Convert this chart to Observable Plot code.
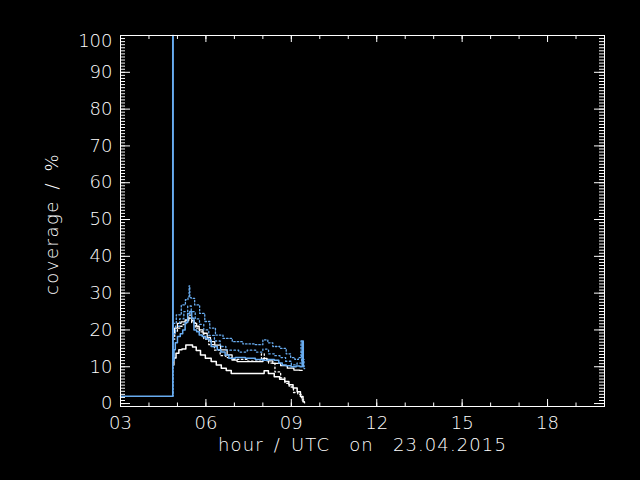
<!DOCTYPE html>
<html><head><meta charset="utf-8">
<script src="https://cdn.jsdelivr.net/npm/d3@7"></script>
<script src="https://cdn.jsdelivr.net/npm/@observablehq/plot@0.6"></script>
<style>html,body{margin:0;padding:0;background:#000;overflow:hidden}</style>
</head><body><div id="chart"></div>
<script>
// ---- tick labels ----
const xTicks = [3, 6, 9, 12, 15, 18];
const yTicks = [0, 10, 20, 30, 40, 50, 60, 70, 80, 90, 100];
const xTitle = "hour\u2002/\u2002UTC\u2003on\u200323.04.2015";
const yTitle = "coverage\u2002/\u2002%";

// ---- series: hour (UTC) and coverage (%) ----
const blueHours = [3, 4.83, 4.84, 4.86, 4.9, 4.95, 5.05, 5.15, 5.22, 5.32, 5.40, 5.47, 5.53, 5.63, 5.72, 5.81, 5.93, 6.05, 6.15, 6.22, 6.35, 6.45, 6.6, 6.75, 6.86, 7.2, 7.57, 7.9, 8.09, 8.3, 8.5, 8.62, 8.74, 8.9, 9.09, 9.25, 9.36, 9.40, 9.44];
const blueCov   = [2, 2, 100, 11.8, 14.6, 16.5, 18.2, 19.0, 20.0, 22.0, 24.5, 25.0, 23.2, 20.0, 19.5, 18.6, 18.2, 17.7, 17.3, 15.5, 15.5, 14.6, 14.0, 13.2, 12.3, 12.5, 12.3, 12.0, 11.8, 12.0, 11.8, 11.0, 10.5, 10.3, 10.0, 10.2, 10.0, 17.0, 10.0];

const blueMaxHours = [4.83, 4.87, 5.05, 5.22, 5.34, 5.40, 5.42, 5.45, 5.52, 5.69, 5.87, 6.05, 6.22, 6.45, 6.75, 7.1, 7.5, 7.9, 8.1, 8.25, 8.45, 8.74, 8.9, 9.05, 9.2, 9.3, 9.38, 9.42, 9.47];
const blueMaxCov   = [2, 21.8, 24.1, 26.8, 28.2, 29, 32, 28.8, 28.6, 26.8, 24.5, 22.3, 20.5, 18.6, 17.7, 16.8, 16.2, 16.0, 17.3, 16.5, 15.5, 15.0, 13.5, 12.5, 12.0, 12.5, 17.0, 12.0, 9.5];

const blueMidHours = [4.87, 5.0, 5.15, 5.3, 5.42, 5.55, 5.7, 5.85, 6.0, 6.2, 6.4, 6.6, 6.8, 7.0, 7.3, 7.6, 7.9, 8.1, 8.3, 8.5, 8.7, 8.9, 9.1, 9.3, 9.42];
const blueMidCov   = [19, 21, 23, 25, 26.5, 25, 23, 21.5, 20, 18.5, 17, 15.5, 14.5, 14.5, 14.0, 14.5, 14.0, 14.8, 13.5, 13.0, 12.5, 11.5, 10.5, 11.0, 14.0];

const whiteHiHours = [4.85, 4.95, 5.05, 5.2, 5.34, 5.46, 5.55, 5.63, 5.72, 5.81, 5.99, 6.1, 6.22, 6.4, 6.63, 6.86, 6.98, 7.21, 7.6, 7.92, 8.09, 8.2, 8.5, 8.75, 8.97, 9.21, 9.38];
const whiteHiCov   = [19.0, 20.5, 21.8, 22.2, 22.7, 23.2, 22.5, 21.8, 21.0, 20.0, 19.1, 18.0, 16.8, 15.9, 14.6, 13.2, 11.8, 11.4, 11.4, 11.4, 12.3, 11.6, 10.9, 10.3, 9.6, 9.1, 9.0];

const whiteLoHours = [4.84, 4.91, 4.99, 5.11, 5.21, 5.38, 5.49, 5.57, 5.75, 5.87, 6.09, 6.28, 6.45, 6.63, 6.8, 6.98, 7.5, 8.0, 8.09, 8.3, 8.5, 8.68, 8.86, 8.97, 9.15, 9.26, 9.38, 9.44];
const whiteLoCov   = [10.5, 12.4, 13.7, 14.6, 14.8, 15.9, 15.9, 15.4, 14.4, 13.2, 12.3, 11.4, 10.5, 9.6, 9.0, 8.2, 8.2, 8.2, 8.9, 8.2, 7.3, 6.6, 6.0, 5.1, 4.2, 3.2, 1.9, 0.5];

const whiteDotHours = [4.86, 4.95, 5.05, 5.15, 5.25, 5.35, 5.45, 5.55, 5.7, 5.85, 6.0, 6.2, 6.4, 6.6, 6.8, 7.0, 7.3, 7.6, 7.9, 8.0, 8.1, 8.3, 8.55, 8.7, 8.85, 9.0, 9.15, 9.3, 9.42, 9.5];
const whiteDotCov   = [17.5, 19.5, 20.5, 21.0, 21.5, 22.5, 24, 22, 20.5, 19.5, 17.5, 16.0, 14.5, 13.0, 12.5, 12.0, 12.0, 11.5, 11.5, 13.5, 12.0, 11.0, 8.6, 7.0, 5.5, 4.5, 3.0, 2.5, 1.0, 0.2];

const toRows = (hs, vs) => hs.map((h, i) => ({h, v: vs[i]}));

const W = 640, H = 480;
const mL = 120, mR = 36, mT = 35, mB = 74;
const fw = W - mL - mR, fh = H - mT - mB;
const BLUE = "#68acf0";
const FONT = "DejaVu Sans";

const xMinor = d3.range(3, 21, 1);
const yMinor = d3.range(0, 100.001, 10 / 12);

const txt = {fill: "white", fontSize: 18, fontFamily: FONT, fontWeight: 200};

const plot = Plot.plot({
  width: W, height: H,
  marginLeft: mL, marginRight: mR, marginTop: mT, marginBottom: mB,
  style: {background: "black", color: "white", fontFamily: FONT},
  x: {domain: [3, 20], axis: null},
  y: {domain: [-0.8, 100], axis: null},
  marks: [
    // ticks: bottom / top
    Plot.tickX(xMinor, {x: d => d, stroke: "white", insetTop: fh - 3.5}),
    Plot.tickX(xTicks, {x: d => d, stroke: "white", insetTop: fh - 7}),
    Plot.tickX(xMinor, {x: d => d, stroke: "white", insetBottom: fh - 4}),
    Plot.tickX(xTicks, {x: d => d, stroke: "white", insetBottom: fh - 7}),
    // ticks: left / right
    Plot.tickY(yMinor, {y: d => d, stroke: "white", insetRight: fw - 5}),
    Plot.tickY(yTicks, {y: d => d, stroke: "white", insetRight: fw - 10}),
    Plot.tickY(yMinor, {y: d => d, stroke: "white", insetLeft: fw - 5}),
    Plot.tickY(yTicks, {y: d => d, stroke: "white", insetLeft: fw - 10}),
    // data
    Plot.line(toRows(whiteDotHours, whiteDotCov), {x: "h", y: "v", curve: "step", stroke: "white", strokeWidth: 1.3, strokeDasharray: "1.5,2.5"}),
    Plot.line(toRows(whiteHiHours, whiteHiCov), {x: "h", y: "v", curve: "step", stroke: "white", strokeWidth: 1.3}),
    Plot.line(toRows(whiteLoHours, whiteLoCov), {x: "h", y: "v", curve: "step", stroke: "white", strokeWidth: 1.5}),
    Plot.line(toRows(blueMidHours, blueMidCov), {x: "h", y: "v", curve: "step", stroke: BLUE, strokeWidth: 1.3, strokeDasharray: "1.5,2.5"}),
    Plot.line(toRows(blueMaxHours, blueMaxCov), {x: "h", y: "v", curve: "step", stroke: BLUE, strokeWidth: 1.3, strokeDasharray: "1.5,2"}),
    Plot.line(toRows(blueHours, blueCov), {x: "h", y: "v", curve: "step", stroke: BLUE, strokeWidth: 1.5}),
    Plot.frame({stroke: "white"}),
    // labels
    Plot.text(xTicks, {x: d => d, frameAnchor: "bottom", dy: 22, text: d => String(d).padStart(2, "0"), ...txt}),
    Plot.text(yTicks.filter(d => d < 100), {y: d => d, frameAnchor: "left", dx: -8, textAnchor: "end", text: d => String(d), ...txt}),
    Plot.text(yTicks.filter(d => d === 100), {y: d => d, frameAnchor: "left", dx: -8, dy: 6, textAnchor: "end", text: d => String(d), ...txt}),
    Plot.text([xTitle], {frameAnchor: "bottom", dy: 44, textAnchor: "middle", text: d => d, ...txt}),
    Plot.text([yTitle], {frameAnchor: "left", dx: -68, dy: 3, rotate: -90, textAnchor: "middle", text: d => d, ...txt})
  ]
});
// widen the spacing of the two axis titles (Hershey-like letter spacing)
d3.select(plot).selectAll("text").each(function () {
  const t = this.textContent;
  if (t === xTitle) this.style.letterSpacing = "1.1px";
  if (t === yTitle) this.style.letterSpacing = "1.5px";
});
document.getElementById("chart").appendChild(plot);
</script>
</body></html>
